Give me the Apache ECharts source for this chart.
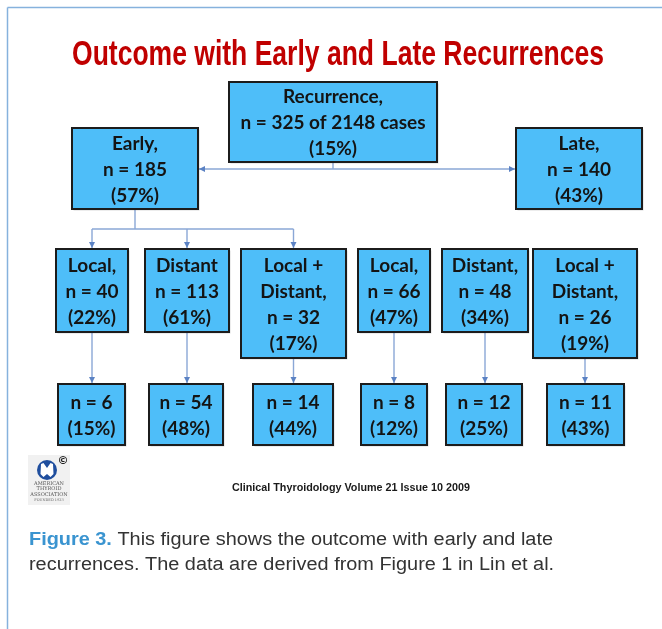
<!DOCTYPE html>
<html><head><meta charset="utf-8">
<script src="https://cdn.jsdelivr.net/npm/echarts@6/dist/echarts.min.js"></script>
<style>html,body{margin:0;padding:0;background:#fff}#c{width:662px;height:629px}</style>
</head><body><div id="c"></div>
<script>
// ---------------- data ----------------
const chartTitle = 'Outcome with Early and Late Recurrences';
const rootLabel = 'Recurrence,';
const rootN = 325;
const rootTotal = 2148;
const rootPct = 15;
const groupLabels = ['Early,', 'Late,'];
const groupN = [185, 140];
const groupPct = [57, 43];
const siteLabels = ['Local,', 'Distant', 'Local +\nDistant,', 'Local,', 'Distant,', 'Local +\nDistant,'];
const siteGroup = [0, 0, 0, 1, 1, 1];
const siteN = [40, 113, 32, 66, 48, 26];
const sitePct = [22, 61, 17, 47, 34, 19];
const outcomeN = [6, 54, 14, 8, 12, 11];
const outcomePct = [15, 48, 44, 12, 25, 43];
const sourceText = 'Clinical Thyroidology Volume 21 Issue 10 2009';
const captionBold = 'Figure 3.';
const captionLine1 = ' This figure shows the outcome with early and late';
const captionLine2 = 'recurrences. The data are derived from Figure 1 in Lin et al.';

// ---------------- layout (pixel space of hidden axes) ----------------
const LAY = {
  root: { x: [229, 437], y: [82, 162] },
  group: { x: [[72, 198], [516, 642]], y: [128, 209] },
  site: { x: [[56, 128], [145, 229], [241, 346], [358, 430], [442, 528], [533, 637]], y: [249, 332], yTall: [249, 358] },
  outcome: { x: [[58, 125], [149, 223], [253, 333], [361, 427], [446, 522], [547, 624]], y: [384, 445] },
  busY: 169, earlyBusY: 229
};

// ---------------- build boxes ----------------
const boxes = [];
boxes.push({ x0: LAY.root.x[0], x1: LAY.root.x[1], y0: LAY.root.y[0], y1: LAY.root.y[1],
  text: `${rootLabel}\nn = ${rootN} of ${rootTotal} cases\n(${rootPct}%)` });
groupLabels.forEach((g, i) => boxes.push({ x0: LAY.group.x[i][0], x1: LAY.group.x[i][1], y0: LAY.group.y[0], y1: LAY.group.y[1],
  text: `${g}\nn = ${groupN[i]}\n(${groupPct[i]}%)` }));
siteLabels.forEach((s, i) => {
  const tall = s.indexOf('\n') >= 0;
  const yy = tall ? LAY.site.yTall : LAY.site.y;
  boxes.push({ x0: LAY.site.x[i][0], x1: LAY.site.x[i][1], y0: yy[0], y1: yy[1],
    text: `${s}\nn = ${siteN[i]}\n(${sitePct[i]}%)`, cx: (LAY.site.x[i][0] + LAY.site.x[i][1]) / 2, bottom: yy[1] });
});
outcomeN.forEach((n, i) => boxes.push({ x0: LAY.outcome.x[i][0], x1: LAY.outcome.x[i][1], y0: LAY.outcome.y[0], y1: LAY.outcome.y[1],
  text: `n = ${n}\n(${outcomePct[i]}%)` }));

// ---------------- connectors ----------------
const cx = r => (r[0] + r[1]) / 2;
const edges = []; // [x0,y0,x1,y1,arrow]
const rootCx = cx(LAY.root.x);
edges.push([rootCx, LAY.root.y[1], rootCx, LAY.busY, 0]);
edges.push([rootCx, LAY.busY, LAY.group.x[0][1] + 1, LAY.busY, 1]);
edges.push([rootCx, LAY.busY, LAY.group.x[1][0] - 1, LAY.busY, 1]);
const earlyCx = cx(LAY.group.x[0]);
edges.push([earlyCx, LAY.group.y[1], earlyCx, LAY.earlyBusY, 0]);
const earlySites = siteGroup.map((g, i) => g === 0 ? i : -1).filter(i => i >= 0);
const sc = earlySites.map(i => cx(LAY.site.x[i]));
edges.push([Math.min(...sc), LAY.earlyBusY, Math.max(...sc), LAY.earlyBusY, 0]);
sc.forEach(x => edges.push([x, LAY.earlyBusY, x, LAY.site.y[0] - 1, 1]));
siteLabels.forEach((s, i) => {
  const b = boxes[3 + i];
  edges.push([b.cx, b.bottom, b.cx, LAY.outcome.y[0] - 1, 1]);
});

// ---------------- helpers ----------------
const ctx = document.createElement('canvas').getContext('2d');
function measure(font, text) { ctx.font = font; return ctx.measureText(text).width; }

const titleFont = 'bold 35px "Liberation Sans", Arial, sans-serif';
const titleScale = 532 / measure(titleFont, chartTitle);
const srcFont = 'bold 11px "Liberation Sans", Arial, sans-serif';
const srcScale = 238 / measure(srcFont, sourceText);
const capFontR = '18px "Liberation Sans", Arial, sans-serif';
const capFontB = 'bold 18px "Liberation Sans", Arial, sans-serif';
const capScale = 524 / (measure(capFontB, captionBold) + measure(capFontR, captionLine1));

const LINE = '#8AA7D6';
const chart = echarts.init(document.getElementById('c'), null, { renderer: 'canvas' });
chart.setOption({
  animation: false,
  backgroundColor: '#ffffff',
  grid: { left: 0, right: 0, top: 0, bottom: 0 },
  xAxis: { type: 'value', min: 0, max: 662, show: false },
  yAxis: { type: 'value', min: 0, max: 629, inverse: true, show: false },
  series: [
    {
      type: 'custom', silent: true, clip: false, z: 2,
      data: edges,
      renderItem(params, api) {
        const p0 = api.coord([api.value(0), api.value(1)]);
        const p1 = api.coord([api.value(2), api.value(3)]);
        const children = [{ type: 'line', shape: { x1: p0[0], y1: p0[1], x2: p1[0], y2: p1[1] }, style: { stroke: LINE, lineWidth: 1.4 } }];
        if (api.value(4)) {
          const dx = p1[0] - p0[0], dy = p1[1] - p0[1];
          const len = Math.hypot(dx, dy) || 1;
          const ux = dx / len, uy = dy / len;
          const L = 6, W = 3;
          children.push({ type: 'polygon', shape: { points: [
            [p1[0], p1[1]],
            [p1[0] - ux * L - uy * W, p1[1] - uy * L + ux * W],
            [p1[0] - ux * L + uy * W, p1[1] - uy * L - ux * W]
          ] }, style: { fill: '#5B82C4' } });
        }
        return { type: 'group', children };
      }
    },
    {
      type: 'custom', silent: true, clip: false, z: 3,
      data: boxes.map(b => [b.x0, b.y0, b.x1, b.y1]),
      renderItem(params, api) {
        const p0 = api.coord([api.value(0), api.value(1)]);
        const p1 = api.coord([api.value(2), api.value(3)]);
        const b = boxes[params.dataIndex];
        return { type: 'group', children: [
          { type: 'rect', shape: { x: p0[0] + 1.5, y: p0[1] + 1.5, width: p1[0] - p0[0], height: p1[1] - p0[1] }, style: { fill: 'rgba(0,0,0,0.15)' } },
          { type: 'rect', shape: { x: p0[0], y: p0[1], width: p1[0] - p0[0], height: p1[1] - p0[1] }, style: { fill: '#4EBEF9', stroke: '#1c1c1c', lineWidth: 2 } },
          { type: 'text', x: (p0[0] + p1[0]) / 2, y: (p0[1] + p1[1]) / 2 + 1, style: {
            text: b.text, fill: '#141414', font: 'bold 19px Lato, "Open Sans", sans-serif',
            fontSize: 19, fontWeight: 'bold', fontFamily: 'Lato, "Open Sans", sans-serif',
            lineHeight: 26, align: 'center', verticalAlign: 'middle', textAlign: 'center', textVerticalAlign: 'middle' } }
        ] };
      }
    }
  ],
  graphic: [
    { type: 'line', shape: { x1: 7.5, y1: 7.5, x2: 662, y2: 7.5 }, style: { stroke: '#86B2DD', lineWidth: 1.5 } },
    { type: 'line', shape: { x1: 7.5, y1: 7.5, x2: 7.5, y2: 629 }, style: { stroke: '#86B2DD', lineWidth: 1.5 } },
    { type: 'text', x: 338, y: 55, scaleX: titleScale, style: { text: chartTitle, font: titleFont, fill: '#C00000', align: 'center', verticalAlign: 'middle' } },
    // ATA logo
    { type: 'rect', shape: { x: 28, y: 455, width: 42, height: 50 }, style: { fill: '#F1F1F1' } },
    { type: 'circle', shape: { cx: 47, cy: 470, r: 10 }, style: { fill: '#1F4E9E' } },
    { type: 'polygon', shape: { points: [[41, 464], [43.5, 463], [47, 468], [50.5, 463], [53, 464], [53.5, 474], [50.5, 477], [47, 474], [43.5, 477], [40.5, 474]] }, style: { fill: '#ffffff' } },
    { type: 'text', x: 63, y: 461, style: { text: '©', font: 'bold 11px "DejaVu Sans", sans-serif', fill: '#222', align: 'center', verticalAlign: 'middle' } },
    { type: 'text', x: 49, y: 484, style: { text: 'AMERICAN', font: '5px "DejaVu Serif", serif', fill: '#555', align: 'center', verticalAlign: 'middle' } },
    { type: 'text', x: 49, y: 489, style: { text: 'THYROID', font: '5px "DejaVu Serif", serif', fill: '#555', align: 'center', verticalAlign: 'middle' } },
    { type: 'text', x: 49, y: 494.5, style: { text: 'ASSOCIATION', font: '5px "DejaVu Serif", serif', fill: '#555', align: 'center', verticalAlign: 'middle' } },
    { type: 'text', x: 49, y: 500, style: { text: 'FOUNDED 1923', font: '3.5px "DejaVu Serif", serif', fill: '#666', align: 'center', verticalAlign: 'middle' } },
    // source
    { type: 'text', x: 351, y: 488, scaleX: srcScale, style: { text: sourceText, font: srcFont, fill: '#1a1a1a', align: 'center', verticalAlign: 'middle' } },
    // caption
    { type: 'text', x: 29, y: 553, scaleX: capScale, style: {
      text: '{b|' + captionBold + '}' + captionLine1 + '\n' + captionLine2,
      font: capFontR, fill: '#333333', align: 'left', verticalAlign: 'middle', lineHeight: 25,
      rich: { b: { font: capFontB, fontWeight: 'bold', fontSize: 18, fill: '#3A94D0', color: '#3A94D0', lineHeight: 25 } } } }
  ]
});
</script>
</body></html>
